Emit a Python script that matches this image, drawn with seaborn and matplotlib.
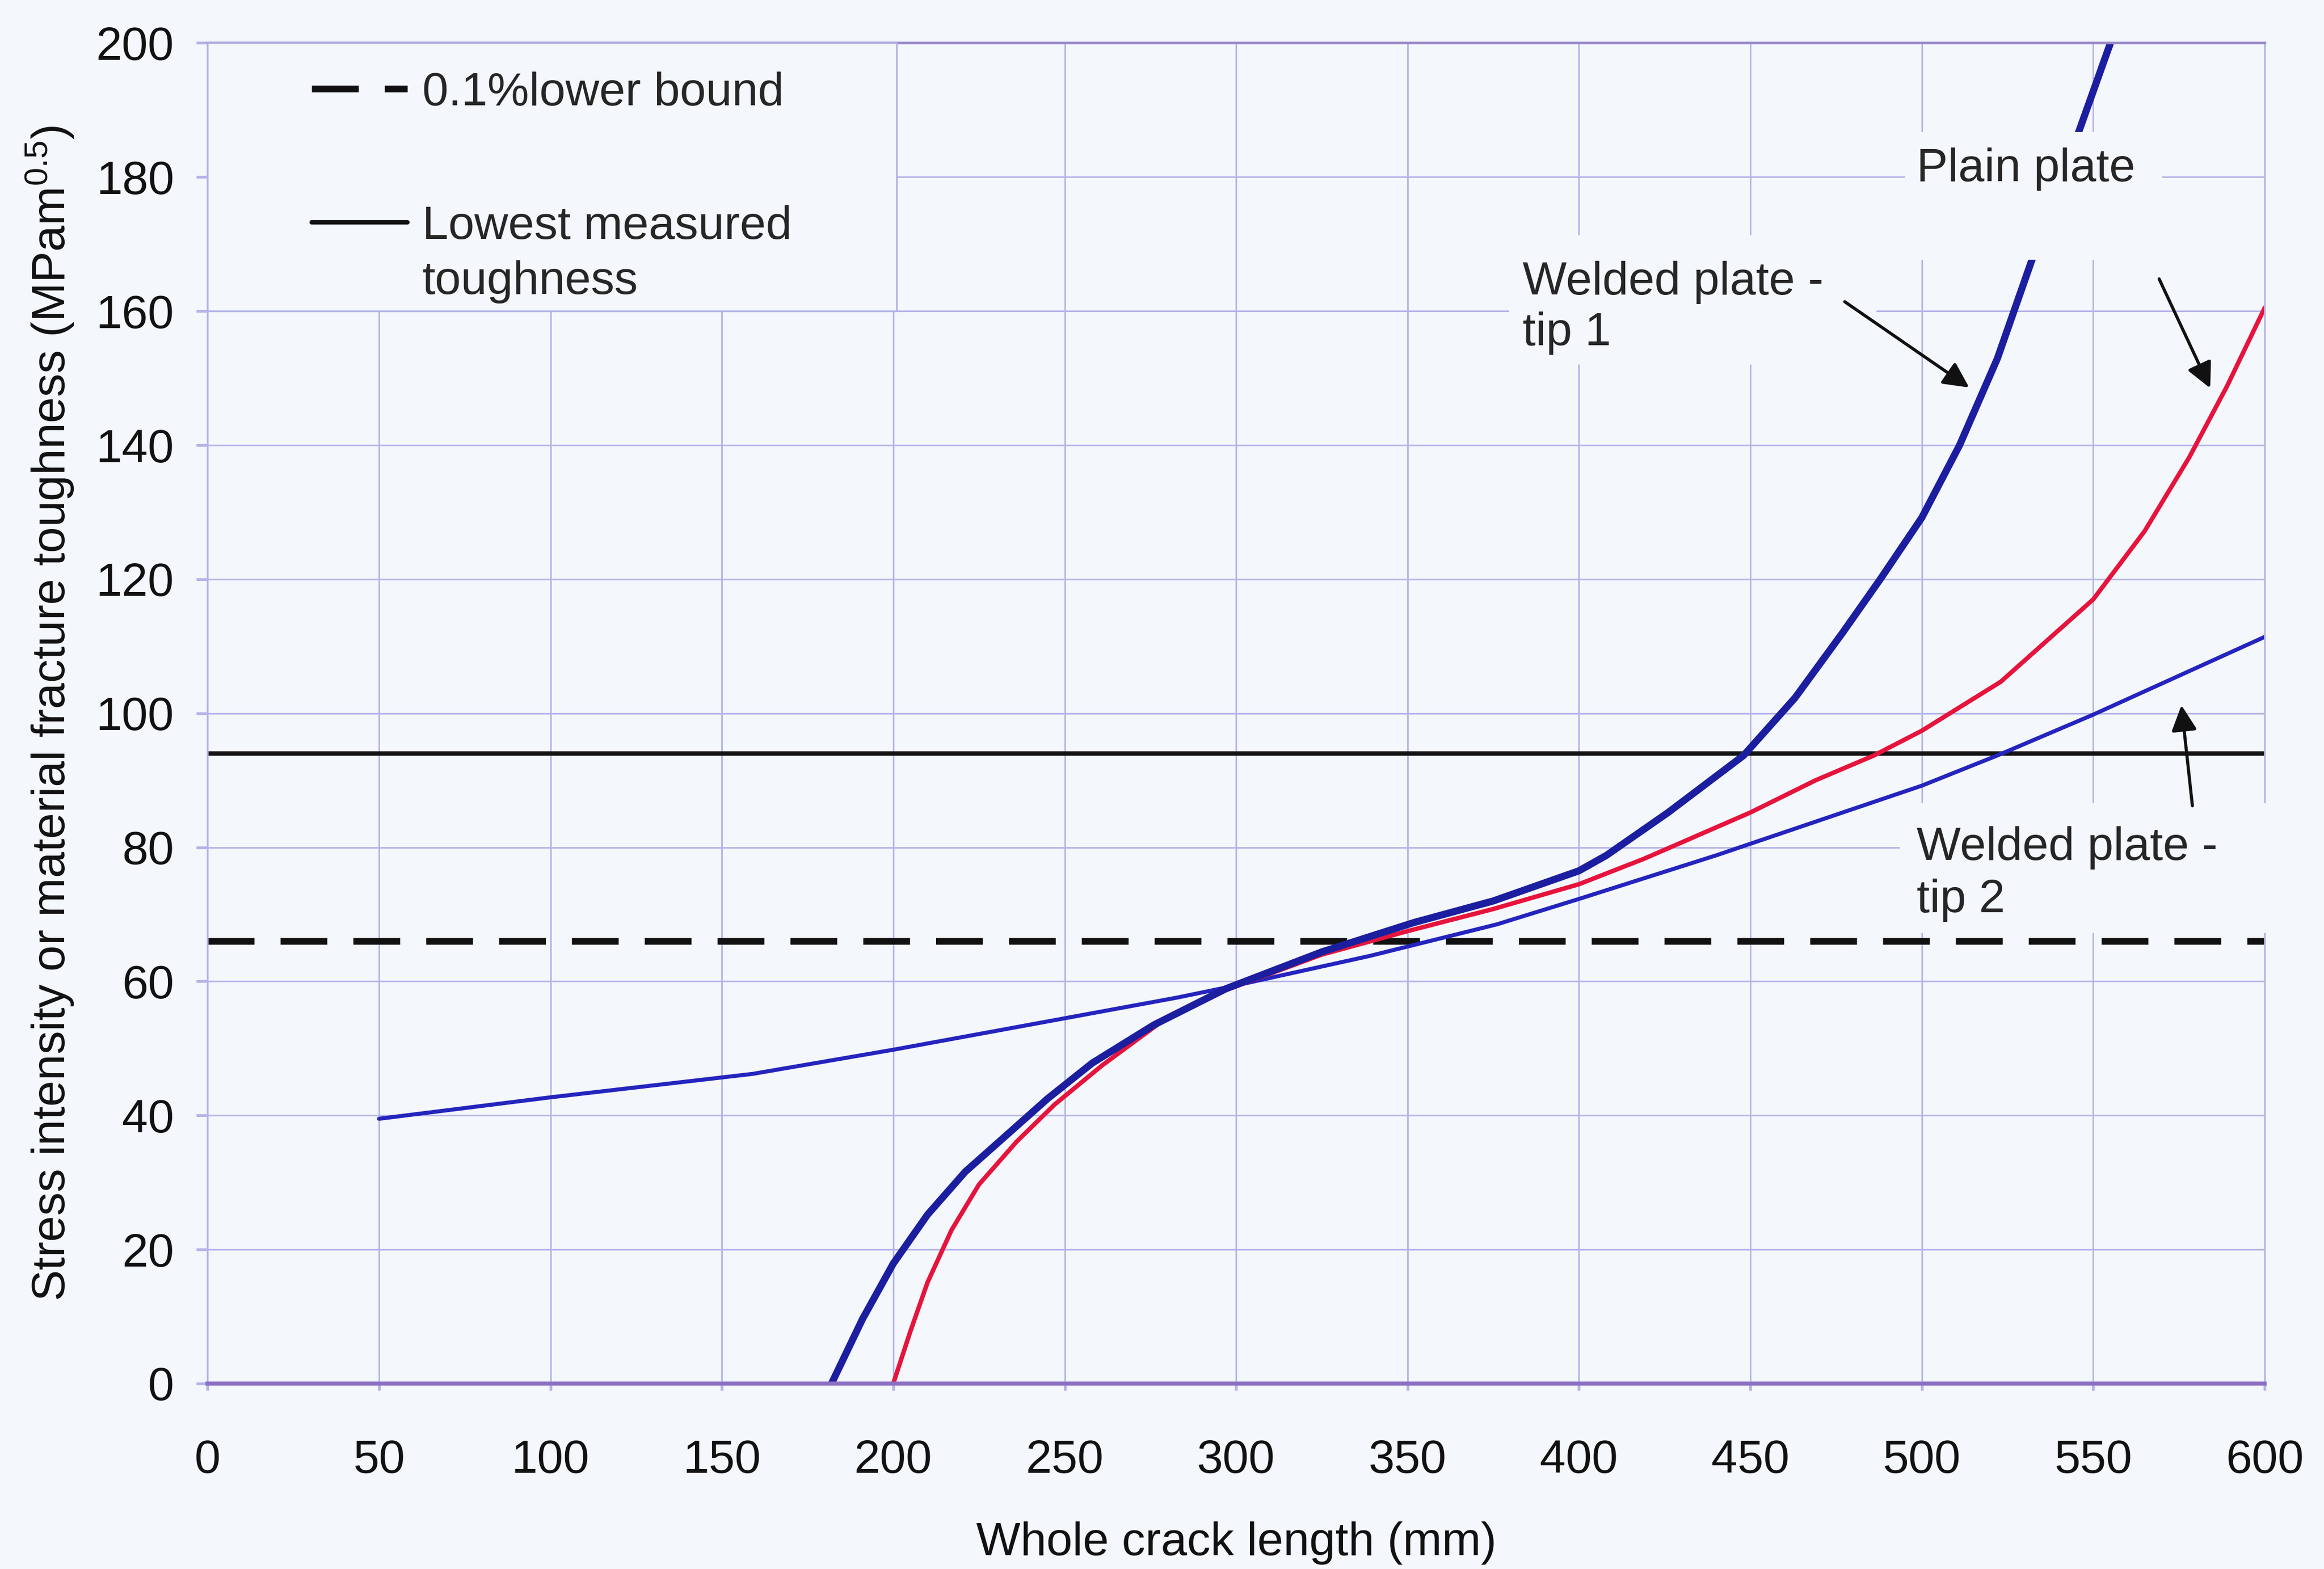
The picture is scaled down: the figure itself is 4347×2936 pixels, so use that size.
import seaborn as sns
import matplotlib.pyplot as plt
from matplotlib.patches import Rectangle

# values (crack length mm, stress intensity MPa m^0.5)
x_tip1 = [182, 191, 200, 210, 221, 234, 245, 258, 276, 297, 325, 352, 375, 400, 408, 426, 448, 463, 477, 488, 500, 511, 522, 532, 546, 555]
y_tip1 = [0, 9.6, 17.9, 25.2, 31.6, 37.5, 42.5, 47.8, 53.5, 58.9, 64.4, 68.8, 72, 76.5, 78.8, 85.2, 93.7, 102.3, 112.1, 120.1, 129.2, 140, 152.9, 167.5, 187.1, 200]

x_plain = [200, 205, 210, 217, 225, 236, 247, 261, 278, 297, 325, 350, 375, 400, 419, 450, 469, 486, 500, 523, 550, 565, 578, 589, 600]
y_plain = [0, 7.8, 15.1, 22.9, 29.7, 36.1, 41.6, 47.5, 53.9, 58.7, 64, 67.5, 70.8, 74.5, 78.3, 85.2, 90, 93.7, 97.4, 104.7, 117, 127.2, 138.2, 148.8, 160.5]

x_tip2 = [50, 100, 159, 200, 249, 283, 300, 339, 376, 400, 440, 470, 500, 522, 550, 600]
y_tip2 = [39.5, 42.7, 46.2, 49.8, 54.4, 57.6, 59.4, 63.8, 68.5, 72.3, 78.8, 84, 89.2, 93.7, 99.8, 111.4]

x_ref = [0, 600]
y_lowest = [94, 94]
y_bound = [66, 66]

xticks = list(range(0, 601, 50))
yticks = list(range(0, 201, 20))

bg = '#f4f7fc'
grid_col = '#b4b4ea'

sns.set_theme(style="whitegrid")
plt.rcParams['font.family'] = ['Liberation Sans', 'DejaVu Sans']
plt.rcParams['mathtext.default'] = 'regular'
plt.rcParams['lines.solid_joinstyle'] = 'round'

fig, ax = plt.subplots(figsize=(4347 / 300, 2936 / 300), dpi=300)
fig.subplots_adjust(left=0.0893, right=0.9745, bottom=0.1182, top=0.9726)
fig.patch.set_facecolor(bg)
ax.set_facecolor(bg)

# reference lines
sns.lineplot(x=x_ref, y=y_bound, color='#111111', lw=3.0, errorbar=None, ax=ax)
bound_line = ax.lines[-1]
bound_line.set_dashes([7, 3.9])
sns.lineplot(x=x_ref, y=y_lowest, color='#111111', lw=2.0, errorbar=None, ax=ax)
lowest_line = ax.lines[-1]

# stress intensity curves
sns.lineplot(x=x_tip2, y=y_tip2, color='#2424be', lw=1.8, errorbar=None, ax=ax)
sns.lineplot(x=x_plain, y=y_plain, color='#e6143c', lw=2.0, errorbar=None, ax=ax)
sns.lineplot(x=x_tip1, y=y_tip1, color='#1c1ea0', lw=3.2, errorbar=None, ax=ax)

ax.set_xlim(0, 600)
ax.set_ylim(0, 200)
ax.set_xticks(xticks)
ax.set_yticks(yticks)
ax.grid(True, color=grid_col, lw=0.7)
ax.tick_params(axis='both', labelsize=21, colors='#111111')
ax.tick_params(axis='x', length=3, color=grid_col, pad=22, bottom=True)
ax.tick_params(axis='y', length=5, color=grid_col, pad=10, left=True)

for side in ['left', 'right']:
    ax.spines[side].set_color(grid_col)
    ax.spines[side].set_linewidth(0.8)
ax.spines['top'].set_color('#9a8cc8')
ax.spines['top'].set_linewidth(1.2)
ax.spines['bottom'].set_color('#8a70c4')
ax.spines['bottom'].set_linewidth(1.8)

ax.set_xlabel('Whole crack length (mm)', fontsize=21, color='#111111')
ax.set_ylabel('Stress intensity or material fracture toughness (MPam$^{0.5}$)', fontsize=21, color='#111111')
ax.xaxis.set_label_coords(0.5, -0.103)
ax.yaxis.set_label_coords(-0.064, 0.5)

# plain boxes behind the legend and labels (hide grid and curves like the original)
boxes = [
    (0, 160, 201, 40, grid_col),
    (495, 167.7, 75, 19, 'none'),
    (379.6, 152, 107.2, 19.3, 'none'),
    (493.7, 67.2, 111.3, 19.4, 'none'),
]
for bx, by, bw, bh, ec in boxes:
    ax.add_patch(Rectangle((bx, by), bw, bh, facecolor=bg, edgecolor=ec, lw=0.8,
                           zorder=4, clip_on=False))

leg = ax.legend([bound_line, lowest_line], ['0.1%lower bound', 'Lowest measured\ntoughness'],
                loc='upper left', bbox_to_anchor=(0.0505, 0.9787), frameon=False,
                fontsize=21, handlelength=2.05, handletextpad=0.32, labelspacing=1.93,
                borderpad=0, borderaxespad=0)
leg.set_zorder(6)
for t in leg.get_texts():
    t.set_linespacing(1.35)
# solid handle sits level with the first line of its two-line label
solid_handle = leg.get_lines()[1]
solid_handle.set_ydata([v + 14.5 for v in solid_handle.get_ydata()])

ax.text(498.5, 179.4, 'Plain plate', fontsize=21, va='baseline', ha='left', zorder=5)
ax.text(383.5, 154.9, 'Welded plate -\ntip 1', fontsize=21, va='baseline', ha='left',
        linespacing=1.22, zorder=5)
ax.text(498.5, 70.3, 'Welded plate -\ntip 2', fontsize=21, va='baseline', ha='left',
        linespacing=1.27, zorder=5)

arrows = [
    ((477.5, 161.4), (513.8, 148.6)),
    ((569.2, 164.8), (584.1, 148.5)),
    ((578.9, 86.2), (575.7, 101.2)),
]
for start, end in arrows:
    ax.annotate('', xy=end, xytext=start, zorder=7,
                arrowprops=dict(arrowstyle='-|>', color='#111111', lw=1.4,
                                mutation_scale=24, shrinkA=0, shrinkB=0))

fig.savefig('out.png', dpi=300, facecolor=bg)
